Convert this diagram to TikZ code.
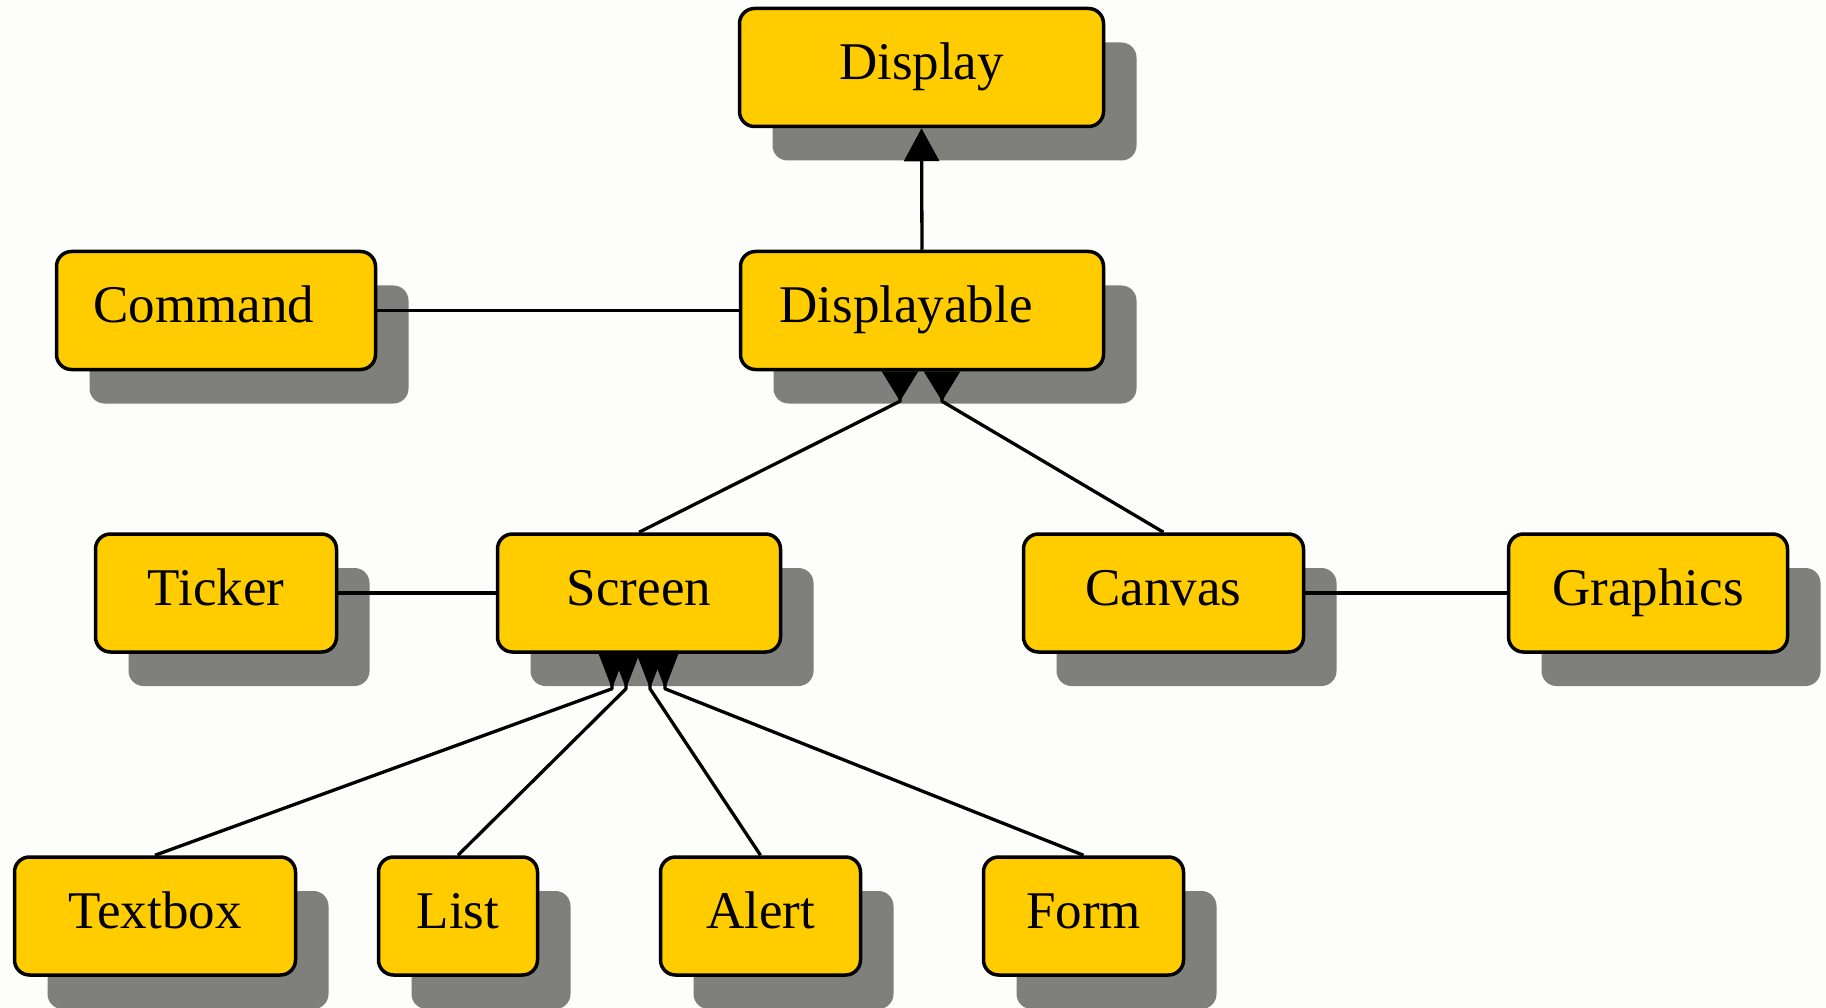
\documentclass[tikz,border=0pt]{standalone}
\usepackage{fontspec}
\setmainfont{Liberation Serif}
\usetikzlibrary{arrows.meta,shadows}
\definecolor{boxfill}{HTML}{FFCC00}
\definecolor{boxshade}{HTML}{7F807C}
\definecolor{paper}{HTML}{FDFDFB}
\begin{document}
\begin{tikzpicture}[x=1pt,y=-1pt,
  cls/.style={draw=black, line width=3.5pt, fill=boxfill, rounded corners=15pt,
    minimum height=118pt, inner sep=0pt, text height=37pt, text depth=12pt,
    font=\fontsize{53}{60}\selectfont,
    general shadow={fill=boxshade, shadow xshift=33pt, shadow yshift=-34pt}},
  assoc/.style={draw=black, line width=3.3pt},
  inherit/.style={draw=black, line width=3.3pt,
    -{Triangle[length=33pt,width=35pt]}},
  inheritw/.style={draw=black, line width=3.3pt, line join=round,
    -{Triangle[reversed,length=30pt,width=36pt]}},
  inheritn/.style={draw=black, line width=3.3pt, line join=round,
    -{Triangle[reversed,length=35pt,width=26pt]}}]

% background
\fill[paper] (0,0) rectangle (1826,1008);
\useasboundingbox (0,0) rectangle (1826,1008);

% classes
\node[cls, minimum width=364pt] (disp) at (921.5,67.5) {Display};
\node[cls, minimum width=363pt] (dpa)  at (922,310.5) {\kern-32pt Displayable};
\node[cls, minimum width=319pt] (cmd)  at (216,310.5) {\kern-24pt Command};
\node[cls, minimum width=241pt] (tick) at (216,593) {Ticker};
\node[cls, minimum width=283pt] (scr)  at (639,593) {Screen};
\node[cls, minimum width=280pt] (cnv)  at (1163.5,593) {Canvas};
\node[cls, minimum width=279pt] (gfx)  at (1648,593) {Graphics};
\node[cls, minimum width=281pt] (tbox) at (155,916) {Textbox};
\node[cls, minimum width=159pt] (lst)  at (458,916) {List};
\node[cls, minimum width=200pt] (alrt) at (760.5,916) {Alert};
\node[cls, minimum width=200pt] (frm)  at (1083.5,916) {Form};

% associations
\draw[assoc] (cmd.east) -- (dpa.west);
\draw[assoc] (tick.east) -- (scr.west);
\draw[assoc] (cnv.east) -- (gfx.west);

% inheritance
\draw[inherit] (dpa.north) -- (disp.south);
\draw[inheritw] (scr.north) -- ([xshift=-22pt,yshift=-30pt]dpa.south) -- ([xshift=-22pt]dpa.south);
\draw[inheritw] (cnv.north) -- ([xshift=20pt,yshift=-30pt]dpa.south) -- ([xshift=20pt]dpa.south);
\draw[inheritn] (tbox.north) -- ([xshift=-27pt,yshift=-35pt]scr.south) -- ([xshift=-27pt]scr.south);
\draw[inheritn] (lst.north) -- ([xshift=-13pt,yshift=-35pt]scr.south) -- ([xshift=-13pt]scr.south);
\draw[inheritn] (alrt.north) -- ([xshift=11pt,yshift=-35pt]scr.south) -- ([xshift=11pt]scr.south);
\draw[inheritn] (frm.north) -- ([xshift=26pt,yshift=-35pt]scr.south) -- ([xshift=26pt]scr.south);
\end{tikzpicture}
\end{document}
